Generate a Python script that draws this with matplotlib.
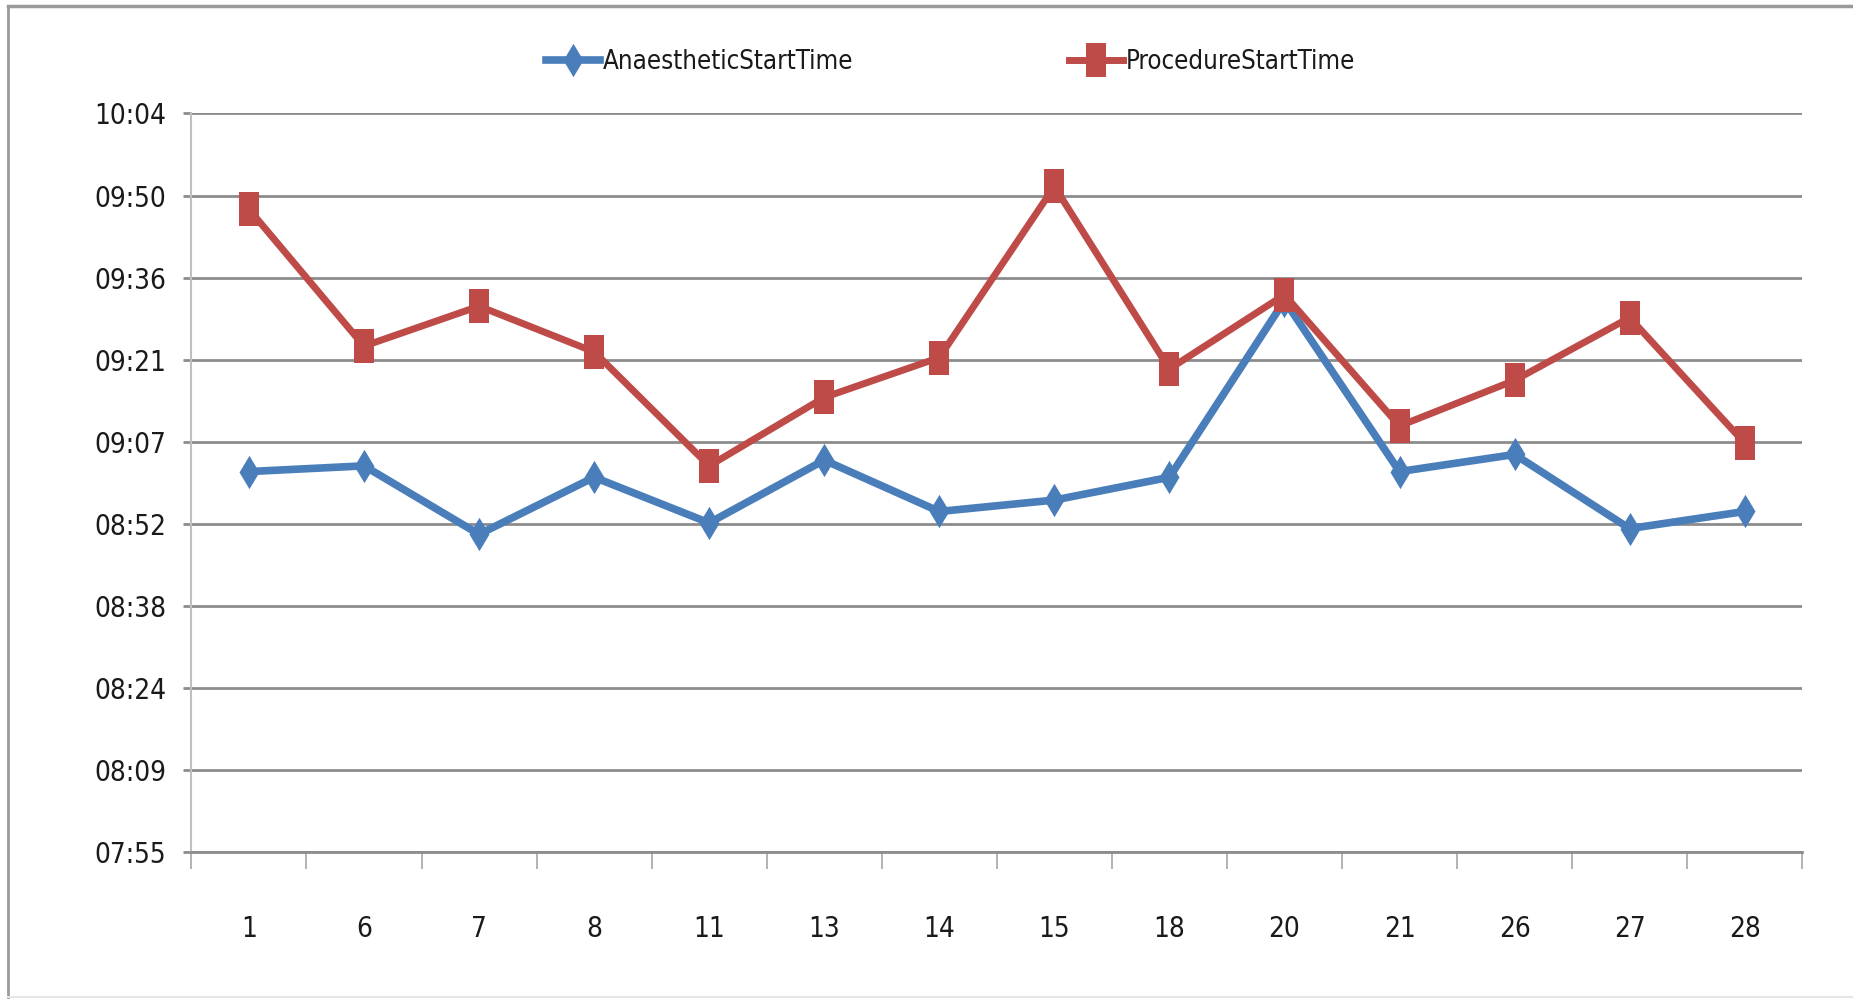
import numpy as np
import matplotlib
matplotlib.use("Agg")
import matplotlib.pyplot as plt
from matplotlib import font_manager
from matplotlib.lines import Line2D
from matplotlib.ticker import FixedLocator, FuncFormatter

# ---- data ----
categories = ["1", "6", "7", "8", "11", "13", "14", "15", "18", "20", "21", "26", "27", "28"]
anaesthetic_start = ["09:02", "09:03", "08:51", "09:01", "08:53", "09:04", "08:55",
                     "08:57", "09:01", "09:32", "09:02", "09:05", "08:52", "08:55"]
procedure_start = ["09:48", "09:24", "09:31", "09:23", "09:03", "09:15", "09:22",
                   "09:52", "09:20", "09:33", "09:10", "09:18", "09:29", "09:07"]
series_names = ["AnaestheticStartTime", "ProcedureStartTime"]
# y axis: Excel day-fraction ticks 0.33 .. 0.42 expressed in minutes
y_tick_fracs = [0.33, 0.34, 0.35, 0.36, 0.37, 0.38, 0.39, 0.40, 0.41, 0.42]


def to_min(s):
    h, m = s.split(":")
    return int(h) * 60 + int(m)


a_vals = [to_min(s) for s in anaesthetic_start]
p_vals = [to_min(s) for s in procedure_start]
y_ticks = [f * 1440 for f in y_tick_fracs]

# ---- font ----
available = {f.name for f in font_manager.fontManager.ttflist}
if "Liberation Sans Narrow" in available:
    plt.rcParams["font.family"] = ["Liberation Sans Narrow", "DejaVu Sans"]
    fs, lfs = 24, 22
else:
    plt.rcParams["font.family"] = ["DejaVu Sans"]
    plt.rcParams["font.stretch"] = "condensed"
    fs, lfs = 20, 18.5

BLUE = "#4A7EBB"
RED = "#BE4B48"
GRID = "#8C8C8C"
TXT = "#1A1A1A"

fig = plt.figure(figsize=(18.53, 9.99), dpi=100)
ax = fig.add_axes([0.1033, 0.1467, 0.9726 - 0.1033, 0.8864 - 0.1467])

x = np.arange(len(categories))

diamond = [(0, 0.5), (0.3, 0), (0, -0.5), (-0.3, 0), (0, 0.5)]
rect = [(-0.29, -0.5), (0.29, -0.5), (0.29, 0.5), (-0.29, 0.5), (-0.29, -0.5)]

ax.plot(x, a_vals, color=BLUE, lw=5.5, marker=diamond, markersize=24,
        markeredgewidth=0, label=series_names[0], zorder=3, solid_joinstyle="round")
ax.plot(x, p_vals, color=RED, lw=5, marker=rect, markersize=25,
        markeredgewidth=0, label=series_names[1], zorder=4, solid_joinstyle="round")

ax.set_xlim(-0.5, len(categories) - 0.5)
ax.set_ylim(y_ticks[0], y_ticks[-1])

ax.yaxis.set_major_locator(FixedLocator(y_ticks))


def fmt(v, pos):
    m = int(np.floor(v + 1e-6))
    return f"{m // 60:02d}:{m % 60:02d}"


ax.yaxis.set_major_formatter(FuncFormatter(fmt))
ax.set_xticks(x)
ax.set_xticklabels(categories)
ax.set_xticks(np.arange(-0.5, len(categories)), minor=True)

ax.grid(axis="y", color=GRID, lw=2.0, zorder=1)
ax.set_axisbelow(True)
for s in ["top", "right"]:
    ax.spines[s].set_visible(False)
ax.spines["left"].set_color("#BFBFBF")
ax.spines["left"].set_linewidth(1.5)
ax.spines["bottom"].set_color(GRID)
ax.spines["bottom"].set_linewidth(2.0)

ax.tick_params(axis="x", which="major", length=0, pad=45, labelsize=fs, labelcolor=TXT)
ax.tick_params(axis="x", which="minor", length=12, width=1.2, color="#A6A6A6", direction="out")
ax.tick_params(axis="y", which="major", length=6, width=2.0, color=GRID, pad=12,
               labelsize=fs, labelcolor=TXT)

leg = fig.legend(loc="center", bbox_to_anchor=(0.513, 0.938), ncol=2, frameon=False,
                 fontsize=lfs, handlelength=2.1, handletextpad=0.1, columnspacing=8.4,
                 borderpad=0, labelcolor=TXT)

# outer chart border (left, top, faint bottom)
fig.add_artist(Line2D([0.0045, 0.0045], [0.0, 0.994], transform=fig.transFigure,
                      color="#9A9A9A", lw=2.0))
fig.add_artist(Line2D([0.0045, 1.0], [0.994, 0.994], transform=fig.transFigure,
                      color="#9A9A9A", lw=2.5))
fig.add_artist(Line2D([0.0045, 1.0], [0.002, 0.002], transform=fig.transFigure,
                      color="#E6E6E6", lw=1.5))

fig.savefig("out.png", dpi=100, facecolor="white")
